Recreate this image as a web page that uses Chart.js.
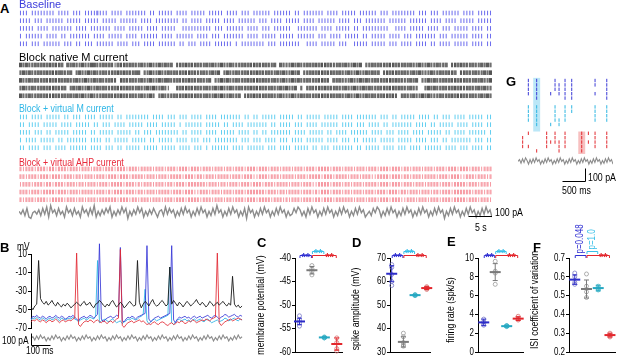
<!DOCTYPE html>
<html lang="en">
<head>
<meta charset="UTF-8">
<title>Native vs virtual M current / AHP current</title>
<script src="https://cdn.jsdelivr.net/npm/chart.js@4"></script>
<style>
  body { margin: 0; background: #fff; }
  #fig { position: relative; width: 617px; height: 358px; overflow: hidden; background: #fff;
         font-family: 'Liberation Sans', Arial, sans-serif; }
  #fig canvas { position: absolute; }
  .t { position: absolute; white-space: nowrap; line-height: 1; font-size: 11px; color: #000; }
  .n { transform: scaleX(0.8); transform-origin: 0 0; }
  .lbl { font-weight: bold; font-size: 13px; }
</style>
</head>
<body>
<div id="fig">
  <canvas id="cA" width="473" height="235" style="left:19px;top:0"></canvas>
  <canvas id="cG" width="95" height="120" style="left:518px;top:70px"></canvas>
  <canvas id="cB" width="245" height="120" style="left:0;top:238px"></canvas>
  <canvas id="cC" width="90" height="140" style="left:255px;top:218px"></canvas>
  <canvas id="cD" width="83" height="140" style="left:350px;top:218px"></canvas>
  <canvas id="cE" width="83" height="140" style="left:445px;top:218px"></canvas>
  <canvas id="cF" width="88" height="140" style="left:529px;top:218px"></canvas>

  <div class="t lbl" style="left:0;top:2px">A</div>
  <div class="t" style="left:19px;top:-1.5px;color:#3b3bdb">Baseline</div>
  <div class="t" style="left:19px;top:52px">Block native M current</div>
  <div class="t n" style="left:19px;top:103px;color:#2eb6e6">Block + virtual M current</div>
  <div class="t n" style="left:19px;top:157px;color:#e8283a">Block + virtual AHP current</div>
  <div class="t n" style="left:495px;top:207px">100 pA</div>
  <div class="t n" style="left:475px;top:222px">5 s</div>

  <div class="t lbl" style="left:506px;top:75px">G</div>
  <div class="t n" style="left:588px;top:172px">100 pA</div>
  <div class="t n" style="left:562px;top:185px">500 ms</div>

  <div class="t lbl" style="left:0;top:241px">B</div>
  <div class="t n" style="left:17px;top:241px;font-size:10.5px">mV</div>
  <div class="t n" style="left:2px;top:335px;font-size:10.5px">100 pA</div>
  <div class="t n" style="left:26px;top:345px;font-size:10.5px">100 ms</div>

  <div class="t lbl" style="left:257px;top:236px">C</div>
  <div class="t lbl" style="left:352px;top:236px">D</div>
  <div class="t lbl" style="left:447px;top:235px">E</div>
  <div class="t lbl" style="left:533px;top:241px">F</div>
</div>

<script>
// ---------- A: spike counts per bin (~0.6 s), 5 trials per condition ----------
const rasterBaseline = [
  "1110111111 1101111011 1011112111 0111101111 1110110111 1101111011 1110111110 1111011101 1111101111 1101101111 1110111101 1111011111 1011101111 1111011101 1101111110 1111011111",
  "1111011101 1111101111 1011111011 1110111111 0111101111 1111011011 1101111101 1110111111 0111011110 1111101111 0111111011 1101110111 1111011111 1011111101 1110111101 1111011111",
  "1111101111 0111111101 1110111111 1011110111 1101111011 1110011111 1111101110 1111110111 1011101111 1100111111 1011110111 1101101111 1111100111 1011111011 1101110111 1101111011",
  "1011111101 1110110111 1111011110 1111101111 0111111011 1101111110 1111011101 1111110111 1011111011 1110111111 0111011110 1111101101 1111011110 1110111111 1011101111 1101111011",
  "1110111011 1111011101 1011101111 1101111011 1011110111 1110110111 0111101111 1101011111 1110111011 1111100111 1011111011 1001111101 1111011101 1110111101 1011110111 1101111011"
];
const rasterBlock = [
  "3232232323 2322303232 2322332232 3213223232 2322322323 2302232322 3223232232 2322232322 3223223032 2232322323 2322322232 3223230223 2322322322 3232232232 2322302232 3223223232",
  "2323223232 3223322302 3223232232 2232323223 3022322322 3232232232 2232232302 3223223223 2322322323 2232302232 3223223232 2322322323 2302232232 3223232223 2232322302 2322322323",
  "3223232232 2322323223 2232232322 3220232232 2322322323 3223223232 2322302232 3223223232 2323223223 2232322322 3223203232 2232232322 3223223232 2232302232 3223232232 2322323223",
  "2322322323 2232230232 3223223232 2232232322 3223232232 1002322322 3223223232 2322322323 2232232232 3223020232 2232322322 3223223232 2322322323 2232200232 3223223232 2232232322",
  "3223223232 2232232323 2322322232 3223232232 2322320232 2232232322 3223223232 2322302232 3223232232 2232232322 3223223232 2322322323 2232232202 3223223232 2232232322 3223223232"
];
const rasterVirtM = [
  "1110111101 1111011011 1011110111 1101101111 1111011110 1110111011 1101111011 1111101101 1011111011 1110110111 1101111101 1110111111 1011101101 1111011110 1101110111 1011111011",
  "1101111011 1110111101 1111011011 1011110111 1101111011 1110101111 1101111101 1011110111 1111011011 1101110111 1011111101 1110111011 1101101111 1110111101 1011111011 1101111011",
  "1111011101 1011111011 1110110111 1101111101 1011101111 1111011011 1101111011 1110111101 1011011111 1101111011 1110110111 1011111101 1110111011 1101111011 1110110111 1011111101",
  "1011110111 1101101111 1110111101 1011111011 1110110111 1101111011 1011101111 1111011101 1101111011 1011110111 1110111101 1101101111 1011111011 1110111101 1101101111 1110111011",
  "1101111011 1011110111 1110111101 1101101111 1011111011 1110111101 1101011111 1011110111 1110111011 1101111101 1011101111 1110110111 1101111011 1011110111 1110111101 1101111011"
];
const rasterVirtAHP = [
  "2122212221 2212221222 1222122212 2212221222 1222212221 2221222122 2122212221 2212221222 1222122212 2212221222 1222212221 2221222122 2122212221 2212221222 1222122212 2212221222",
  "2212221222 1222122212 2122212221 2221222122 2212221222 1222212221 2212221222 2122212221 1222122212 2221222122 2212221222 2122212221 1222212221 2212221222 2122212221 1222122212",
  "1222122212 2122212221 2212221222 1222212221 2122212221 2212221222 2221222122 1222122212 2212221222 2122212221 1222212221 2212221222 2122212221 2221222122 2212221222 2122212221",
  "2221222122 2212221222 1222212221 2122212221 2212221222 2122212221 1222122212 2212221222 2221222122 1222212221 2122212221 2212221222 1222122212 2122212221 2212221222 2221222122",
  "2122212221 1222212221 2212221222 2221222122 1222122212 2212221222 2122212221 2212221222 1222212221 2122212221 2212221222 2221222122 2122212221 1222122212 2212221222 2122212221"
];
// holding current under the rasters, one digit per sample (13 pA per step)
const traceA = "5362710453 6273819462 7351846273 5184627391 5263748152 6384705263 8471526374 1562837461 5273846152 7384615273 9461527384 6152708461 5273846152 7384615237 4862517384 6152738461 5273846152 7384613527 4861527384 6152738461 5273846152 7384605273 8461527384 6152738461";
const traceASeconds = 98.5;

// ---------- B: example voltage traces, 10 ms per sample ----------
const bStepMs = 10;
const vmBlock = [-47,-50,-46,-44,3,-38,-42,-44,-41,-45, -43,-40,-44,-46,-42,-45,-47,-44,-46,-43,
  -45,-48,-46,-44,-42,-44,-46,-43,-41,-45, -44,-42,-46,-48,-44,-43,-40,-42,-45,-47,
  -44,-46,-42,-40,-44,-47,-45,-42,-44,-48, -46,-43,-41,-44,-46,-45,3,-42,-48,-44,
  -41,-43,-46,-42,-39,-44,-46,-45,-42,-40, -43,-46,-44,-4,-44,-40,-43,-46,-42,-44,
  -47,-44,-41,-43,-46,-44,-42,-39,-43,-45, -42,-44,-47,-45,-41,-43,-46,-44,-42,-45,
  -43,-41,-44,-46,-43,-45,-14,-44,-47,-45, -48,-46];
const vmBaseline = [-60,-57,-58,-56,-58,-59,-57,-58,-60,-58, -57,-59,-58,-56,-58,-59,-57,-58,-60,-59,
  -57,-58,-56,-58,-60,-62,-59,-58,-57,-59, -58,-56,-57,-59,-57,-55,21,-60,-63,-61,
  -59,-58,-57,-59,-58,-56,-57,17,-62,-63, -60,-58,-59,-57,-58,-60,-58,-57,-56,-55,
  -54,19,-60,-63,-61,-59,-58,-57,-59,-58, -57,-56,-55,-54,19,-61,-64,-60,-58,-59,
  -58,-57,-59,-58,-60,-58,-57,-59,-58,-57, -59,-58,-57,-56,-58,-59,-57,-56,-58,-60,
  -58,-57,-55,-56,-58,-57,-56,-55,-57,-58, -56,-57];
const vmVirtM = [-61,-59,-60,-58,-60,-61,-59,-60,-62,-60, -59,-61,-60,-58,-60,-62,-59,-60,-61,-60,
  -59,-60,-58,-60,-61,-63,-61,-60,-59,-61, -60,-58,-59,-60,-57,3,-64,-62,-61,-60,
  -62,-63,-61,-60,-62,-64,-63,-62,-65,-63, -62,-60,-61,-59,-60,-61,-60,-58,-57,-55,
  -28,-62,-65,-63,-61,-60,-62,-61,-60,-59, -58,-57,-56,-4,-64,-66,-63,-61,-60,-62,
  -61,-60,-62,-61,-63,-61,-60,-62,-61,-60, -62,-63,-61,-60,-62,-64,-63,-62,-61,-63,
  -62,-61,-59,-60,-62,-61,-60,-59,-61,-62, -60,-61];
const vmVirtAHP = [-63,-61,-62,-60,-62,-63,-61,-62,-64,-62, -61,-63,-62,-60,-62,-64,-62,-61,-63,-62,
  -61,-62,-60,-59,11,-66,-68,-65,-63,-62, -63,-61,-62,-64,-62,-61,-63,-64,-62,-63,
  -65,-63,-62,-64,-62,-60,-59,15,-67,-69, -66,-64,-63,-62,-64,-63,-62,-61,-63,-62,
  -64,-66,-65,-66,-64,-63,-65,-66,-64,-63, -64,-66,-67,-65,-64,-66,-65,-63,-64,-62,
  -63,-65,-64,-62,-63,-61,-62,-64,-63,-62, -61,-62,-60,-61,-62,-60,-59,-58,11,-64,
  -67,-65,-63,-62,-61,-60,-62,-61,-60,-59, -60,-61];
const currentB = "4627384615 2738461527 3846152738 4615273846 1527384615 2738461527 3846152738 4615273846 1527384615 2738461527 3846152738 46";

// ---------- C-F: per-cell values, mean and SD (baseline, block, +vM, +vAHP) ----------
const vmPoints = [[-52.3,-53.2,-53.8,-54.5], [-41.6,-42.3,-42.9,-43.6], [-56.8,-56.9,-57.0,-57.0], [-57.0,-58.0,-59.3,-59.8]];
const vmMean = [-53.5, -42.6, -56.9, -58.3];
const vmSD = [0.7, 0.8, 0.15, 1.3];

const ampPoints = [[67.2,66,63,60,58.3], [38,36.5,34,33,32.5], [54,54.1,54.3,54.4], [56.6,57,57.4,57.8]];
const ampMean = [63.3, 34.3, 54.2, 57.2];
const ampSD = [3.4, 2.2, 0.3, 0.6];

const ratePoints = [[3.5,3.2,3.0,2.85], [9.65,8.6,8.4,7.2], [2.7,2.75,2.8,2.8], [3.8,3.6,3.5,3.4]];
const rateMean = [3.15, 8.5, 2.75, 3.55];
const rateSD = [0.35, 0.9, 0.1, 0.2];

const cvPoints = [[0.62,0.6,0.57,0.56], [0.615,0.55,0.52,0.49], [0.55,0.54,0.535,0.53], [0.3,0.29,0.285,0.28]];
const cvMean = [0.585, 0.535, 0.54, 0.29];
const cvSD = [0.025, 0.048, 0.015, 0.01];

const starLabels = ['**', '**', '**'];
const cvLabels = ['p=0.048', 'p=1.0', '**'];

// ---------- G: spike times (ms) for 5 repeats per condition ----------
const gBaseline = [[224,405,803,1020,1165,1671,1925], [224,405,803,890,1020,1165,1671,1925], [224,405,803,890,1020,1165,1925], [224,405,709,890,1020,1165,1671,1925], [405,1020,1165,1925]];
const gVirtM = [[224,405,803,1020,1165,1671,1925], [224,405,803,1020,1165,1671,1925], [224,405,803,1020,1671,1925], [224,405,803,890,1020,1671,1925], [405,709,890]];
const gVirtAHP = [[224,622,803,1020,1382,1526,1671,1925], [101,622,803,1020,1382,1671,1925], [101,622,709,803,890,1020,1382,1526,1671,1925], [101,224,622,890,1020,1382,1671,1925], [405,890,1382]];
const gHighlight = [405, 1382];
const currentG = "4627385162 7384615273 8461527384 6152738461 5273846152 7384615273 8461";

// ---------------------------------------------------------------
const FONT = "'Liberation Sans',Arial,sans-serif";
Chart.defaults.font.family = FONT;
Chart.defaults.color = '#000';
Chart.defaults.animation = false;
Chart.defaults.responsive = false;
Chart.defaults.events = [];
Chart.defaults.layout.autoPadding = false;
Chart.defaults.plugins.legend.display = false;
Chart.defaults.plugins.tooltip.enabled = false;

const digits = s => s.replace(/\s/g, '').split('').map(Number);

function rasterSet(rows, firstSlot, color) {
  const pts = [];
  rows.forEach((row, r) => {
    digits(row).forEach((n, b) => {
      for (let k = 0; k < n; k++) pts.push({ x: b + (k - (n - 1) / 2) * 0.34, y: firstSlot + r });
    });
  });
  return { data: pts, pointStyle: 'line', pointRotation: 90, pointRadius: 2.3,
           pointBorderWidth: 1, pointBorderColor: color, pointBackgroundColor: color, clip: false };
}

function spikeSet(trials, firstSlot, color) {
  return { data: trials.flatMap((ts, r) => ts.map(t => ({ x: t, y: firstSlot + r }))),
           pointStyle: 'line', pointRotation: 90, pointRadius: 1.7,
           pointBorderWidth: 1, pointBorderColor: color, clip: false };
}

function traceSet(str, duration, pA, xID, yID, width) {
  const v = digits(str);
  return { type: 'line', xAxisID: xID, yAxisID: yID, clip: false,
           data: v.map((d, i) => ({ x: i * duration / (v.length - 1), y: (d - 4.5) * pA })),
           borderColor: '#8c8c8c', borderWidth: width || 0.9, pointRadius: 0 };
}

function barPlugin(xID, yID, pts) {
  return { id: 'scalebar', afterDraw(chart) {
    const { ctx, scales } = chart;
    ctx.save(); ctx.strokeStyle = '#000'; ctx.lineWidth = 1; ctx.beginPath();
    pts.forEach(([x, y], i) => {
      const px = Math.round(scales[xID].getPixelForValue(x)) + 0.5;
      const py = Math.round(scales[yID].getPixelForValue(y)) + 0.5;
      i ? ctx.lineTo(px, py) : ctx.moveTo(px, py);
    });
    ctx.stroke(); ctx.restore();
  }};
}

// y tick labels and title drawn horizontally condensed, like the narrow figure font
const squeezeAxis = { id: 'squeeze', afterDraw(chart, args, o) {
  const { ctx, chartArea } = chart;
  const y = chart.scales.y;
  ctx.save(); ctx.fillStyle = '#000';
  ctx.font = o.size + 'px ' + FONT; ctx.textBaseline = 'middle'; ctx.textAlign = 'right';
  y.ticks.forEach(t => {
    ctx.save(); ctx.translate(y.right - 4, y.getPixelForValue(t.value)); ctx.scale(0.76, 1);
    ctx.fillText(t.label, 0, 0); ctx.restore();
  });
  if (o.title) {
    ctx.save(); ctx.translate(o.titleX, (chartArea.top + chartArea.bottom) / 2 + (o.titleDy || 0));
    ctx.rotate(-Math.PI / 2); ctx.scale(0.8, 1);
    ctx.font = '11px ' + FONT; ctx.textAlign = 'center';
    ctx.fillText(o.title, 0, 0); ctx.restore();
  }
  ctx.restore();
}};

const hidden = (min, max, extra) => Object.assign({ type: 'linear', display: false, min, max }, extra || {});

// ---- A ----
new Chart(document.getElementById('cA'), {
  type: 'scatter',
  data: { datasets: [
    rasterSet(rasterBaseline, 0, 'rgba(70,70,232,0.8)'),
    rasterSet(rasterBlock, 6.75, 'rgba(10,10,10,0.7)'),
    rasterSet(rasterVirtM, 13.5, 'rgba(45,190,235,0.75)'),
    rasterSet(rasterVirtAHP, 20.25, 'rgba(238,70,85,0.55)'),
    traceSet(traceA, traceASeconds, 13, 'xt', 'yp', 1.4)
  ]},
  options: { scales: {
    x: hidden(-0.5, 159.5), y: hidden(-1.688, 28.83, { reverse: true }),
    xt: hidden(0, traceASeconds), yp: hidden(-209, 1927)
  }},
  plugins: [barPlugin('xt', 'yp', [[traceASeconds - 5, -36], [traceASeconds, -36], [traceASeconds, 64]])]
});

// ---- G ----
const gBoxes = { id: 'boxes', beforeDatasetsDraw(chart) {
  const { ctx, scales: { x, y } } = chart;
  const spans = [[-0.6, 11.6, 'rgba(120,208,240,0.5)'], [11.6, 16.7, 'rgba(240,130,130,0.5)']];
  gHighlight.forEach((t, i) => {
    const [a, b, c] = spans[i];
    const x0 = x.getPixelForValue(t - 75), x1 = x.getPixelForValue(t + 75);
    const y0 = y.getPixelForValue(a), y1 = y.getPixelForValue(b);
    ctx.fillStyle = c; ctx.fillRect(x0, y0, x1 - x0, y1 - y0);
  });
}};
new Chart(document.getElementById('cG'), {
  type: 'scatter',
  data: { datasets: [
    spikeSet(gBaseline, 0, '#3a3ad6'),
    spikeSet(gVirtM, 6, '#2fb6e2'),
    spikeSet(gVirtAHP, 12, '#e22a30'),
    traceSet(currentG, 2060, 7, 'x', 'yI', 1.1)
  ]},
  options: { scales: { x: hidden(0, 2060), y: hidden(-2.386, 24.89, { reverse: true }), yI: hidden(-223, 700) } },
  plugins: [gBoxes, barPlugin('x', 'yI', [[954, -154], [1454, -154], [1454, -54]])]
});

// ---- B ----
const vmSet = (vals, color) => ({ data: vals.map((v, i) => ({ x: i * bStepMs, y: v })), borderColor: color,
  borderWidth: 1, pointRadius: 0, clip: false });
const bDur = (vmBlock.length - 1) * bStepMs;
new Chart(document.getElementById('cB'), {
  type: 'line',
  data: { datasets: [
    vmSet(vmBlock, 'rgba(25,25,25,0.9)'),
    vmSet(vmVirtAHP, 'rgba(226,40,50,0.85)'),
    vmSet(vmBaseline, 'rgba(55,55,215,0.85)'),
    vmSet(vmVirtM, 'rgba(50,180,228,0.9)'),
    traceSet(currentB, bDur, 7, 'x', 'yI', 1.1)
  ]},
  options: {
    layout: { padding: { top: 16, right: 2, bottom: 29.7, left: 0 } },
    plugins: { squeeze: { size: 10.5 } },
    scales: {
      x: hidden(0, bDur + 5),
      y: { min: -70, max: 10, ticks: { stepSize: 20, display: false },
           grid: { drawOnChartArea: false, tickLength: 3, color: '#000' }, border: { color: '#000' },
           afterFit(s) { s.width = 31; } },
      yI: hidden(80.8, 700)
    }
  },
  plugins: [squeezeAxis, barPlugin('x', 'yI', [[0, 41.7], [0, -58.3], [100, -58.3]])]
});

// ---- C-F ----
const groupColors = ['#2b2bc8', '#7a7a7a', '#27a8c2', '#e3262c'];
const pointColors = ['#7878c8', '#9a9a9a', '#45b6c8', '#d87070'];
const bracketColors = ['#3030d2', '#38bfe8', '#e3262c'];

const brackets = { id: 'brackets', afterDraw(chart, args, opts) {
  const { ctx, chartArea: { top }, scales: { x } } = chart;
  const spec = [[1, 2, 3, 0.5], [2, 3, 7, 0.5], [2, 4, 3, 0.72]];
  ctx.save();
  spec.forEach(([a, b, lift, at], i) => {
    const xa = x.getPixelForValue(a) + 0.5, xb = x.getPixelForValue(b) - 0.5;
    const yl = Math.round(top - lift) + 0.5;
    ctx.strokeStyle = bracketColors[i]; ctx.fillStyle = bracketColors[i]; ctx.lineWidth = 1;
    ctx.beginPath(); ctx.moveTo(xa, yl + 2.5); ctx.lineTo(xa, yl); ctx.lineTo(xb, yl); ctx.lineTo(xb, yl + 2.5); ctx.stroke();
    const label = opts.labels[i], xm = xa + (xb - xa) * at;
    if (label.startsWith('p')) {
      ctx.save(); ctx.translate(xm, yl - 2); ctx.rotate(-Math.PI / 2); ctx.scale(0.8, 1);
      ctx.font = '10px ' + FONT; ctx.textAlign = 'left'; ctx.textBaseline = 'middle';
      ctx.fillText(label, 0, 0); ctx.restore();
    } else {
      ctx.font = 'bold 11px ' + FONT; ctx.textAlign = 'center'; ctx.textBaseline = 'alphabetic';
      ctx.fillText(label, xm, yl + 5);
    }
  });
  ctx.restore();
}};

function statPanel(id, p) {
  const ds = [];
  ds.push({ data: p.mean.map((m, i) => ({ x: i + 1, y: m })), pointStyle: 'line', pointRadius: 5.5,
            pointBorderWidth: 2, pointBorderColor: groupColors, clip: false });
  p.mean.forEach((m, i) => ds.push({ type: 'line', clip: false,
    data: [{ x: i + 1, y: m - p.sd[i] }, { x: i + 1, y: m + p.sd[i] }],
    borderColor: groupColors[i], borderWidth: 1, pointStyle: 'line', pointRadius: 2.5,
    pointBorderWidth: 1, pointBorderColor: groupColors[i] }));
  ds.push({ data: p.points.flatMap((arr, i) => arr.map(v => ({ x: i + 1, y: v }))), clip: false,
            pointStyle: 'circle', pointRadius: 2, pointBorderWidth: 0.8,
            pointBorderColor: p.points.flatMap((arr, i) => arr.map(() => pointColors[i])),
            pointBackgroundColor: 'rgba(255,255,255,0)' });
  new Chart(document.getElementById(id), {
    type: 'scatter',
    data: { datasets: ds },
    options: {
      layout: { padding: { top: 40, right: p.padR, bottom: 6, left: 0 } },
      plugins: { brackets: { labels: p.labels }, squeeze: { size: 10.5, title: p.title, titleX: 6, titleDy: p.titleDy } },
      scales: {
        x: { type: 'linear', min: p.xMin, max: p.xMax, ticks: { display: false },
             grid: { display: false, drawTicks: false }, border: { color: '#000' },
             afterFit(s) { s.height = 0; } },
        y: { min: p.min, max: p.max, ticks: { stepSize: p.step, display: false },
             grid: { drawOnChartArea: false, tickLength: 3, color: '#000' }, border: { color: '#000' },
             afterFit(s) { s.width = p.axisW; } }
      }
    },
    plugins: [brackets, squeezeAxis]
  });
}

statPanel('cC', { points: vmPoints, mean: vmMean, sd: vmSD, labels: starLabels, min: -60, max: -40, step: 5,
  title: 'membrane potential (mV)', xMin: 0.64, xMax: 4.42, axisW: 40, padR: 3, titleDy: 0 });
statPanel('cD', { points: ampPoints, mean: ampMean, sd: ampSD, labels: starLabels, min: 30, max: 70, step: 10,
  title: 'spike amplitude (mV)', xMin: 0.854, xMax: 4.28, axisW: 40, padR: 3, titleDy: 4 });
statPanel('cE', { points: ratePoints, mean: rateMean, sd: rateSD, labels: starLabels, min: 0, max: 10, step: 2,
  title: 'firing rate (spk/s)', xMin: 0.5, xMax: 4.42, axisW: 33, padR: 5, titleDy: 5 });
statPanel('cF', { points: cvPoints, mean: cvMean, sd: cvSD, labels: cvLabels, min: 0.2, max: 0.7, step: 0.1,
  title: 'ISI coefficient of variation', xMin: 0.51, xMax: 4.43, axisW: 40, padR: 2, titleDy: -5 });
</script>
</body>
</html>
